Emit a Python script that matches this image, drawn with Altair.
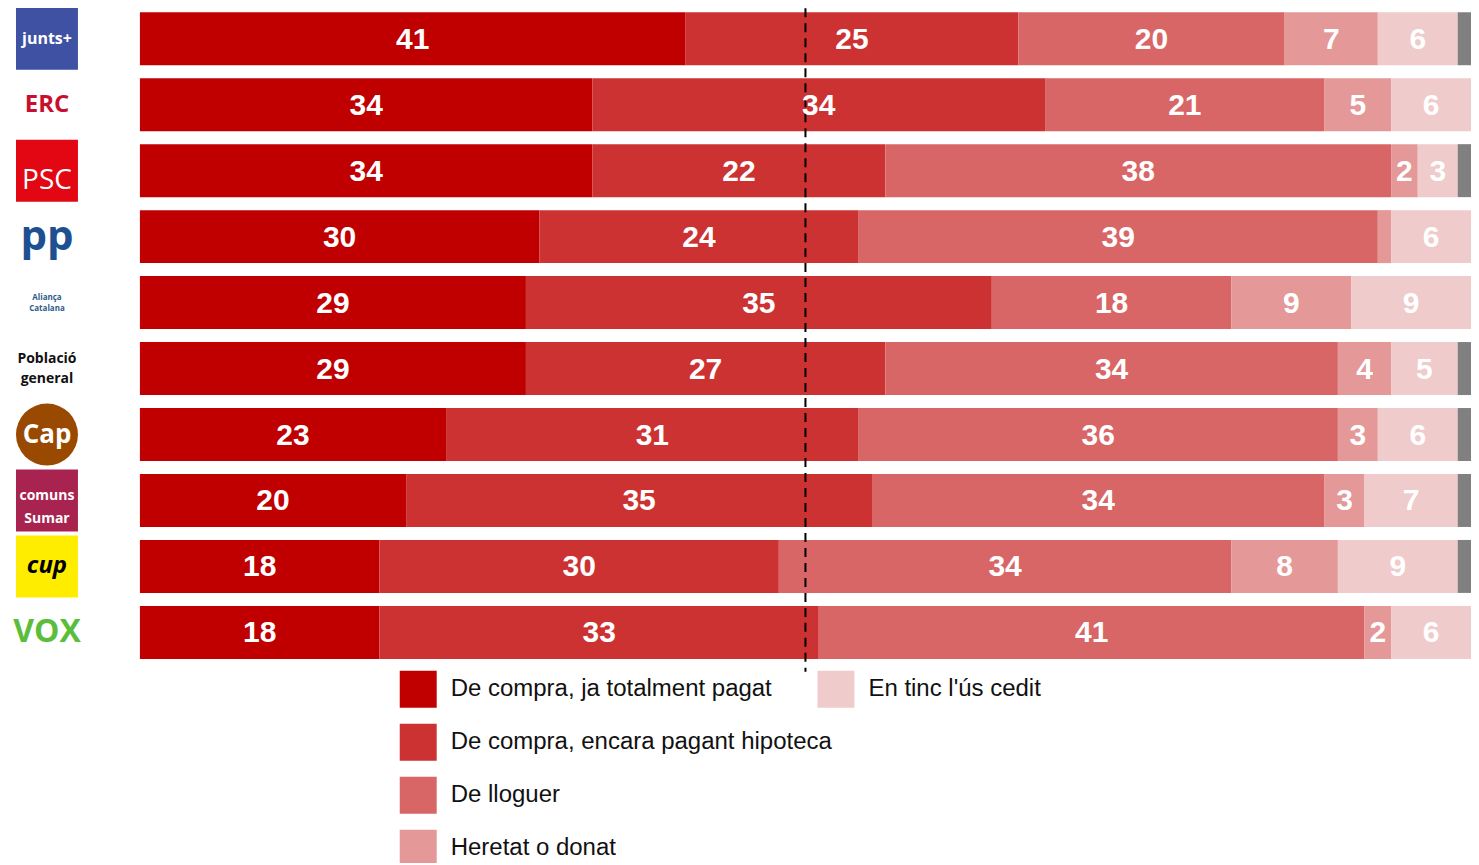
import altair as alt
import pandas as pd

# ---------------- data ----------------
parties = ["Junts", "ERC", "PSC", "PP", "Aliança Catalana", "Població general",
           "Cap", "Comuns Sumar", "CUP", "Vox"]
categories = ["De compra, ja totalment pagat", "De compra, encara pagant hipoteca",
              "De lloguer", "Heretat o donat", "En tinc l'ús cedit"]
pagat = [41, 34, 34, 30, 29, 29, 23, 20, 18, 18]
hipoteca = [25, 34, 22, 24, 35, 27, 31, 35, 30, 33]
lloguer = [20, 21, 38, 39, 18, 34, 36, 34, 34, 41]
heretat = [7, 5, 2, 1, 9, 4, 3, 3, 8, 2]
cedit = [6, 6, 3, 6, 9, 5, 6, 7, 9, 6]
series = [pagat, hipoteca, lloguer, heretat, cedit]

logo_text = ["junts+", "ERC", "PSC", "pp", "Aliança\nCatalana", "Població\ngeneral",
             "Cap", "comuns\nSumar", "cup", "VOX"]

# ---------------- styles ----------------
cat_colors = ["#C00000", "#CD3232", "#D86666", "#E49898", "#F0CBCC"]
grey = "#808080"
logo_box = {"Junts": ("#3F51A3", "square"), "PSC": ("#E30613", "square"),
            "Cap": ("#9A4A00", "circle"), "Comuns Sumar": ("#A8234F", "square"),
            "CUP": ("#FFED00", "square")}
# per-logo text style: color, size, weight, italic, lineHeight, dy
logo_style = {
    "Junts": ("white", 16, "bold", False, 16, 0),
    "ERC": ("#C8102E", 24, "bold", False, 24, 0),
    "PSC": ("white", 28, "normal", False, 28, 10),
    "PP": ("#1D4F91", 42, "bold", False, 42, 0),
    "Aliança Catalana": ("#2D5C8A", 8, "bold", False, 11, -5),
    "Població general": ("#111111", 14, "bold", False, 20, -10),
    "Cap": ("white", 26, "bold", False, 26, 0),
    "Comuns Sumar": ("white", 14, "bold", False, 23, -4),
    "CUP": ("black", 24, "bold", True, 24, 0),
    "Vox": ("#5BBE3A", 32, "bold", False, 32, 0),
}

# ---------------- tables ----------------
rows = []
for i, p in enumerate(parties):
    start = 0
    for c, s in zip(categories, series):
        v = s[i]
        rows.append({"party": p, "category": c, "value": v, "x0": start,
                     "x1": start + v, "mid": start + v / 2,
                     "label": str(v) if v >= 2 else ""})
        start += v
df = pd.DataFrame(rows)

tot = df.groupby("party", sort=False)["value"].sum().reset_index()
tot = tot[tot["value"] < 100]
grey_df = pd.DataFrame({"party": tot["party"], "x0": tot["value"], "x1": 100})

logos = pd.DataFrame({"party": parties, "text": logo_text})
boxes = pd.DataFrame([{"party": k, "fill": v[0], "shape": v[1]} for k, v in logo_box.items()])

# legend is laid out column-wise: pad with empty entries so the first column holds 4
legend_domain = categories + ["_a", "_b", "_c"]
legend_range = cat_colors + ["rgba(0,0,0,0)"] * 3

yscale = alt.Scale(domain=parties, paddingInner=0.197, paddingOuter=0.06)
xscale = alt.Scale(domain=[0, 100], nice=False, zero=True)
Y = alt.Y("party:N", sort=parties, scale=yscale, axis=None)

bars = alt.Chart(df).mark_bar(cornerRadius=0).encode(
    x=alt.X("x0:Q", scale=xscale, axis=None),
    x2="x1:Q",
    y=Y,
    color=alt.Color("category:N",
                    scale=alt.Scale(domain=legend_domain, range=legend_range),
                    legend=alt.Legend(
                        title=None, orient="none", legendX=260, legendY=663,
                        columns=2, gridAlign="none", symbolType="square",
                        symbolSize=1369, symbolStrokeWidth=0, symbolOpacity=1,
                        labelFontSize=24, labelFont="Liberation Sans",
                        labelColor="#111111", labelOffset=14, rowPadding=16,
                        columnPadding=-15, labelLimit=600, padding=0,
                        labelExpr="indexof(datum.label, '_') == 0 ? '' : datum.label")),
)

grey_bars = alt.Chart(grey_df).mark_bar(color=grey).encode(
    x=alt.X("x0:Q", scale=xscale, axis=None), x2="x1:Q", y=Y)

rule = alt.Chart(pd.DataFrame({"x": [50]})).mark_rule(
    color="black", strokeWidth=2, strokeDash=[9, 6]).encode(
    x=alt.X("x:Q", scale=xscale, axis=None), y=alt.value(0), y2=alt.value(664))

labels = alt.Chart(df).mark_text(
    color="white", fontWeight="bold", fontSize=30, font="Liberation Sans",
    baseline="middle", align="center", dy=1).encode(
    x=alt.X("mid:Q", scale=xscale, axis=None), y=Y, text="label:N")

logo_shapes = alt.Chart(boxes).mark_point(filled=True, opacity=1, strokeWidth=0).encode(
    x=alt.value(-93), y=Y,
    color=alt.Color("fill:N", scale=None),
    shape=alt.Shape("shape:N", scale=None),
    size=alt.value(3844))

logo_layers = []
for p in parties:
    col, size, weight, italic, lh, dy = logo_style[p]
    params = dict(font="Open Sans", fontSize=size, fontWeight=weight, color=col,
                  lineBreak="\n", lineHeight=lh, dy=dy, baseline="middle",
                  align="center")
    if italic:
        params["fontStyle"] = "italic"
    logo_layers.append(
        alt.Chart(logos).transform_filter(alt.datum.party == p).mark_text(**params)
        .encode(x=alt.value(-93), y=Y, text="text:N"))

chart = alt.layer(logo_shapes, *logo_layers, bars, grey_bars, rule, labels).properties(
    width=1332, height=655,
    autosize=alt.AutoSizeParams(type="none"),
    padding={"left": 132, "top": 0, "right": 0, "bottom": 200},
).configure_view(stroke=None)

chart.save("out.html", embed_options={"renderer": "svg", "actions": False})
